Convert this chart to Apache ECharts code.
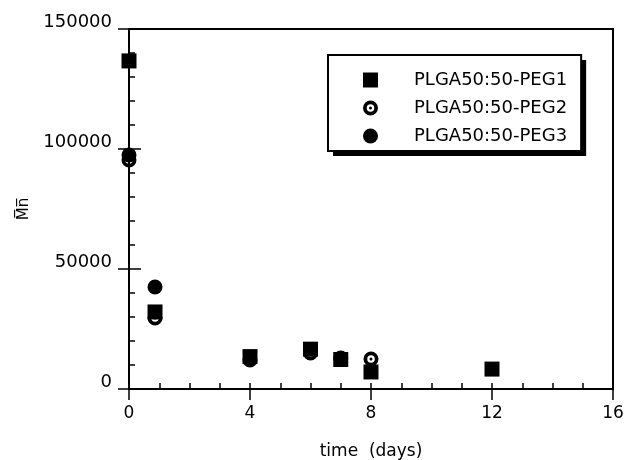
<!DOCTYPE html>
<html><head><meta charset="utf-8">
<script src="https://cdn.jsdelivr.net/npm/echarts@6/dist/echarts.min.js"></script>
<style>html,body{margin:0;padding:0;background:#fff}#c{width:628px;height:460px}</style>
</head><body><div id="c"></div>
<script>
var days1 = [0, 0.86, 4, 6, 7, 8, 12];
var peg1 = [136700, 32100, 13500, 16600, 12300, 7100, 8300];
var days2 = [0, 0.86, 4, 6, 7, 8];
var peg2 = [95400, 29600, 12100, 15000, 12900, 12500];
var days3 = [0, 0.86];
var peg3 = [97500, 42500];
var xTicks = [0, 4, 8, 12, 16];
var yTicks = [0, 50000, 100000, 150000];
var names = ['PLGA50:50-PEG1', 'PLGA50:50-PEG2', 'PLGA50:50-PEG3'];

function pairs(xs, ys) { return xs.map(function (x, i) { return [x, ys[i]]; }); }
var ringDot = 'path://M0,-10A10,10 0 1,1 0,10A10,10 0 1,1 0,-10Z M0,-5A5,5 0 1,0 0,5A5,5 0 1,0 0,-5Z M0,-2A2,2 0 1,1 0,2A2,2 0 1,1 0,-2Z';
var F = 'DejaVu Sans';
var chart = echarts.init(document.getElementById('c'));
var base = { type: 'value', axisLine: { show: false }, axisLabel: { show: false }, splitLine: { show: false } };
var legendCommon = {
  orient: 'vertical', left: 328, top: 55,
  data: names,
  padding: [16, 14, 6, 35], itemGap: 10, itemWidth: 15, itemHeight: 15,
  textStyle: { fontFamily: F, fontSize: 18, color: '#000', padding: [0, 0, 0, 31] }
};
chart.setOption({
  animation: false,
  backgroundColor: '#fff',
  grid: { left: 129, top: 29, right: 15, bottom: 71, containLabel: false, outerBoundsMode: 'none',
    show: true, borderColor: '#000', borderWidth: 2, backgroundColor: 'transparent' },
  legend: [
    Object.assign({}, legendCommon, {
      z: 5, backgroundColor: '#fff', borderWidth: 0,
      shadowColor: '#000', shadowBlur: 0, shadowOffsetX: 5, shadowOffsetY: 5
    }),
    Object.assign({}, legendCommon, {
      z: 6, backgroundColor: '#fff', borderColor: '#000', borderWidth: 2
    })
  ],
  xAxis: [
    Object.assign({}, base, {
      min: xTicks[0], max: xTicks[xTicks.length - 1], interval: 4, position: 'bottom',
      axisLine: { show: true, lineStyle: { color: '#000', width: 2 } },
      axisTick: { show: true, inside: false, length: 11, lineStyle: { color: '#000', width: 1.5 } },
      axisLabel: { show: true, margin: 16, fontFamily: F, fontSize: 17, color: '#000' },
      name: 'time  (days)', nameLocation: 'middle', nameGap: 54,
      nameTextStyle: { fontFamily: F, fontSize: 17, color: '#000' }
    }),
    Object.assign({}, base, {
      min: 0, max: 16, interval: 1, position: 'bottom',
      axisTick: { show: true, inside: true, length: 6, lineStyle: { color: '#000', width: 1.5 } }
    })
  ],
  yAxis: [
    Object.assign({}, base, {
      min: yTicks[0], max: yTicks[yTicks.length - 1], interval: 50000, position: 'left',
      axisLine: { show: true, lineStyle: { color: '#000', width: 2 } },
      axisTick: { show: true, inside: false, length: 11, lineStyle: { color: '#000', width: 1.5 } },
      axisLabel: { show: true, margin: 17, fontFamily: F, fontSize: 18, color: '#000',
        verticalAlign: 'bottom', lineHeight: 13, formatter: function (v) { return String(v); } },
      name: 'M\u0305n\u0305', nameLocation: 'middle', nameGap: 97,
      nameTextStyle: { fontFamily: F, fontSize: 15, color: '#000' }
    }),
    Object.assign({}, base, {
      min: 0, max: 150000, interval: 10000, position: 'left',
      axisTick: { show: true, inside: true, length: 6, lineStyle: { color: '#000', width: 1.5 } }
    }),
    Object.assign({}, base, {
      min: 0, max: 150000, interval: 50000, position: 'left',
      axisTick: { show: true, inside: true, length: 12, lineStyle: { color: '#000', width: 1.5 } }
    })
  ],
  series: [
    { name: names[0], type: 'scatter', clip: false, symbol: 'rect', symbolSize: 15, z: 2,
      itemStyle: { color: '#000', opacity: 1 }, data: pairs(days1, peg1) },
    { name: names[2], type: 'scatter', clip: false, symbol: 'circle', symbolSize: 15, z: 3,
      itemStyle: { color: '#000', opacity: 1 }, data: pairs(days3, peg3) },
    { name: names[1], type: 'scatter', clip: false, symbol: ringDot, symbolSize: 15, z: 4,
      itemStyle: { color: '#000', opacity: 1 }, data: pairs(days2, peg2) }
  ]
});
</script></body></html>
